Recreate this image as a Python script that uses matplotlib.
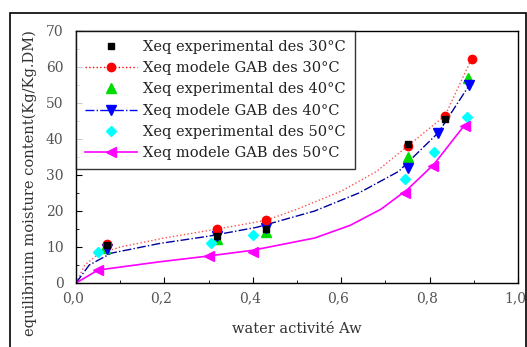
import numpy as np
import matplotlib
matplotlib.use('Agg')
import matplotlib.pyplot as plt
import matplotlib.transforms as mtransforms
from matplotlib.patches import Rectangle
from matplotlib.ticker import MultipleLocator, FuncFormatter

# experimental points
x_exp30 = [0.07, 0.32, 0.43, 0.75, 0.835]
y_exp30 = [10.5, 13.0, 15.0, 38.7, 45.5]
x_exp40 = [0.065, 0.32, 0.43, 0.75, 0.888]
y_exp40 = [9.8, 12.3, 14.3, 35.0, 57.0]
x_exp50 = [0.05, 0.305, 0.40, 0.745, 0.81, 0.885]
y_exp50 = [8.6, 11.0, 13.3, 28.8, 36.5, 46.0]

# GAB model points
x_gab30 = [0.07, 0.32, 0.43, 0.75, 0.835, 0.895]
y_gab30 = [10.8, 15.0, 17.4, 38.0, 46.5, 62.3]
x_gab40 = [0.07, 0.32, 0.43, 0.75, 0.82, 0.89]
y_gab40 = [9.5, 13.0, 15.2, 32.0, 41.8, 55.0]
x_gab50 = [0.05, 0.30, 0.40, 0.745, 0.807, 0.88]
y_gab50 = [3.6, 7.5, 8.6, 25.0, 32.6, 43.5]

# GAB curves
cx30 = [0.0, 0.02, 0.05, 0.10, 0.20, 0.32, 0.43, 0.50, 0.60, 0.68, 0.75, 0.835, 0.895]
cy30 = [0.0, 5.0, 8.0, 10.0, 12.5, 15.0, 17.4, 20.5, 25.5, 31.0, 38.0, 46.5, 62.3]
cx40 = [0.0, 0.03, 0.08, 0.19, 0.30, 0.41, 0.54, 0.64, 0.73, 0.82, 0.89]
cy40 = [0.0, 5.0, 8.3, 11.0, 13.0, 15.5, 20.0, 25.0, 31.0, 41.8, 55.0]
cx50 = [0.0, 0.05, 0.19, 0.30, 0.40, 0.54, 0.62, 0.69, 0.75, 0.81, 0.88]
cy50 = [0.0, 3.6, 5.9, 7.5, 9.1, 12.5, 16.0, 20.5, 26.0, 33.0, 44.0]

serif = 'DejaVu Serif'

fig = plt.figure(figsize=(5.27, 3.47), dpi=100)
fig.patches.append(Rectangle((10/527, -0.05), 516/527, 0.05 + (347-13)/347,
                             transform=fig.transFigure, fill=False,
                             edgecolor='black', lw=1.2))
ax = fig.add_axes([76/527, 64/347, 442/527, 252/347])

ax.plot(cx30, cy30, ':', color='#ff5050', lw=1.0)
ax.plot(cx40, cy40, '-.', color='#0000a0', lw=1.0)
ax.plot(cx50, cy50, '-', color='#ff00ff', lw=1.2)

ms = 6
ax.plot(x_exp40, y_exp40, '^', color='#00dd00', ms=ms+1, ls='none')
ax.plot(x_exp50, y_exp50, 'D', color='#00ffff', ms=ms-1, ls='none')
ax.plot(x_gab40, y_gab40, 'v', color='#0000ff', ms=ms+1, ls='none')
ax.plot(x_gab50, y_gab50, '<', color='#ff00ff', ms=ms+1, ls='none')
ax.plot(x_gab30, y_gab30, 'o', color='red', ms=ms, ls='none')
ax.plot(x_exp30, y_exp30, 's', color='black', ms=ms-1, ls='none')

# legend proxies
l1, = ax.plot([], [], 's', color='black', ms=ms-1)
l2, = ax.plot([], [], ':o', color='red', ms=ms, lw=1.0)
l3, = ax.plot([], [], '^', color='#00dd00', ms=ms+1)
l4, = ax.plot([], [], '-.v', color='#0000ff', ms=ms+1, lw=1.0)
l5, = ax.plot([], [], 'D', color='#00ffff', ms=ms-1)
l6, = ax.plot([], [], '-<', color='#ff00ff', ms=ms+1, lw=1.2)

labels = ['Xeq experimental des 30°C', 'Xeq modele GAB des 30°C',
          'Xeq experimental des 40°C', 'Xeq modele GAB des 40°C',
          'Xeq experimental des 50°C', 'Xeq modele GAB des 50°C']
leg = ax.legend([l1, l2, l3, l4, l5, l6], labels, loc='upper left',
                bbox_to_anchor=(0.0, 1.0), borderaxespad=0.0,
                prop={'family': serif, 'size': 10.5}, frameon=True,
                fancybox=False, edgecolor='black', handlelength=3.6,
                labelspacing=0.5, borderpad=0.6, handletextpad=0.4)
leg.get_frame().set_linewidth(1.0)
for t in leg.get_texts():
    t.set_color('#222222')

ax.set_xlim(0, 1.0)
ax.set_ylim(0, 70)
ax.xaxis.set_major_locator(MultipleLocator(0.2))
ax.xaxis.set_minor_locator(MultipleLocator(0.1))
ax.yaxis.set_major_locator(MultipleLocator(10))
ax.yaxis.set_minor_locator(MultipleLocator(5))
ax.xaxis.set_major_formatter(FuncFormatter(lambda v, p: ('%.1f' % v).replace('.', ',')))
ax.yaxis.set_major_formatter(FuncFormatter(lambda v, p: '%d' % v))
ax.tick_params(which='both', direction='in')
ax.tick_params(which='major', length=4, labelsize=10)
ax.tick_params(axis='x', which='major', pad=6)
ax.tick_params(axis='y', which='major', pad=9)
ax.tick_params(which='minor', length=2)
shift = mtransforms.ScaledTranslation(-3/100, 0, fig.dpi_scale_trans)
for lab in ax.get_xticklabels():
    lab.set_transform(lab.get_transform() + shift)
for lab in ax.get_xticklabels() + ax.get_yticklabels():
    lab.set_family(serif)
    lab.set_color('#555555')
for s in ax.spines.values():
    s.set_linewidth(1.0)

ax.set_xlabel('water activité Aw', family=serif, fontsize=10.5, color='#333333')
ax.xaxis.set_label_coords(0.5, (283 - 322) / 252)
ax.set_ylabel('equilibrium moisture content(Kg/Kg.DM)', family=serif, fontsize=10.5,
              color='#333333')
ax.yaxis.set_label_coords((37 - 76) / 442, (283 - 183) / 252)

fig.savefig('out.png', dpi=100)
